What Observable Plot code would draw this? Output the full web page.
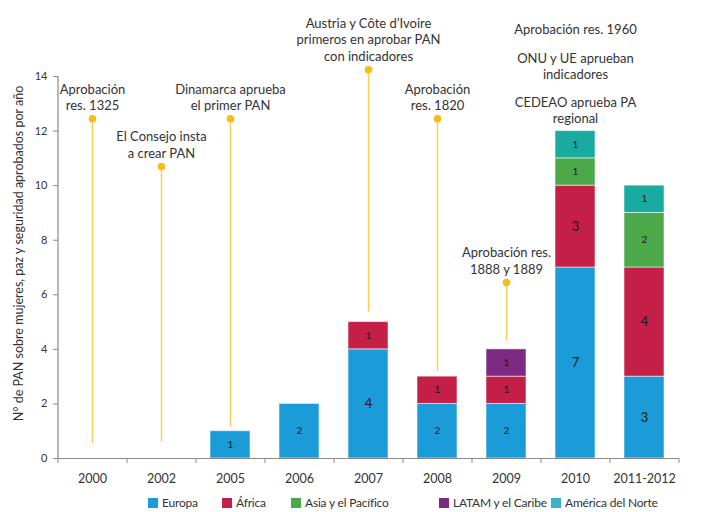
<!DOCTYPE html>
<html>
<head>
<meta charset="utf-8">
<script src="https://cdn.jsdelivr.net/npm/d3@7"></script>
<script src="https://cdn.jsdelivr.net/npm/@observablehq/plot@0.6"></script>
<style>
  html, body { margin: 0; padding: 0; background: #fff; }
  body { width: 706px; height: 512px; position: relative; font-family: Lato, "Open Sans", sans-serif; overflow: hidden; }
  #legend { position: absolute; top: 495px; left: 0; width: 706px; height: 17px; font-size: 12px; letter-spacing: -0.2px; color: #333; }
  #legend .item { position: absolute; top: 0; display: flex; align-items: center; white-space: nowrap; }
  #legend .sw { width: 10px; height: 10px; margin-right: 4px; display: inline-block; }
</style>
</head>
<body>
<div id="chart"></div>
<div id="legend"></div>
<script>
// ---- data ----
const years = ["2000", "2002", "2005", "2006", "2007", "2008", "2009", "2010", "2011-2012"];
const regions = ["Europa", "África", "Asia y el Pacífico", "LATAM y el Caribe", "América del Norte"];
const europa = [0, 0, 1, 2, 4, 2, 2, 7, 3];
const africa = [0, 0, 0, 0, 1, 1, 1, 3, 4];
const asia   = [0, 0, 0, 0, 0, 0, 0, 1, 2];
const latam  = [0, 0, 0, 0, 0, 0, 1, 0, 0];
const norte  = [0, 0, 0, 0, 0, 0, 0, 1, 1];
const yTicks = [0, 2, 4, 6, 8, 10, 12, 14];

// milestone annotations (lollipops)
const annYears = ["2000", "2002", "2005", "2007", "2008", "2009"];
const annTop   = [12.45, 10.7, 12.45, 14.25, 12.45, 6.45];
const annBase  = [0.55, 0.6, 1.15, 5.35, 3.2, 4.3];
const annText  = [
  "Aprobación\nres. 1325",
  "El Consejo insta\na crear PAN",
  "Dinamarca aprueba\nel primer PAN",
  "Austria y Côte d’Ivoire\nprimeros en aprobar PAN\ncon indicadores",
  "Aprobación\nres. 1820",
  "Aprobación res.\n1888 y 1889"
];
// 2010 text-only annotations
const noteYears = ["2010", "2010", "2010"];
const noteY     = [15.57, 13.9, 12.3];
const noteText  = ["Aprobación res. 1960", "ONU y UE aprueban\nindicadores", "CEDEAO aprueba PA\nregional"];

const yLabel = "N° de PAN sobre mujeres, paz y seguridad aprobados por año";

// ---- styles ----
const barColors = ["#1b9bd7", "#c41f46", "#4ca94a", "#7b2b82", "#1aaba0"];
const legendColors = ["#1b9bd7", "#c41f46", "#4ca94a", "#7b2b82", "#41b0c6"];
const legendLeft = [148, 222, 291, 439, 551];
const gold = "#f6bd16", goldLine = "#f9cf55";

const W = 706, H = 490, mL = 58, mR = 27, mT = 76, mB = 32;
const step = (W - mL - mR) / years.length;

const series = [europa, africa, asia, latam, norte];
const rows = [];
years.forEach((yr, i) => regions.forEach((r, k) => {
  if (series[k][i] > 0) rows.push({year: yr, region: r, value: series[k][i]});
}));
const ann = annYears.map((yr, i) => ({year: yr, top: annTop[i], base: annBase[i], text: annText[i]}));
const notes = noteYears.map((yr, i) => ({year: yr, y: noteY[i], text: noteText[i]}));

const txt = "#333";
const chart = Plot.plot({
  width: W, height: H,
  marginLeft: mL, marginRight: mR, marginTop: mT, marginBottom: mB,
  style: {fontFamily: "Lato, 'Open Sans', sans-serif", color: txt, background: "white", overflow: "visible"},
  x: {domain: years, paddingInner: 0.42, paddingOuter: 0.21, label: null},
  y: {domain: [0, 14], label: null},
  color: {domain: regions, range: barColors},
  marks: [
    // annotation stems and dots
    Plot.ruleX(ann, {x: "year", y1: "base", y2: "top", stroke: goldLine, strokeWidth: 1.5}),
    Plot.dot(ann, {x: "year", y: "top", r: 3.8, fill: gold}),
    Plot.text(ann, {x: "year", y: "top", text: "text", lineAnchor: "bottom", dy: -9, fontSize: 13, lineHeight: 1.25, fill: txt}),
    Plot.text(notes, {x: "year", y: "y", text: "text", lineAnchor: "bottom", fontSize: 13, lineHeight: 1.25, fill: txt}),
    // stacked bars
    Plot.barY(rows, {x: "year", y: "value", fill: "region", order: regions, stroke: "white", strokeOpacity: 0.55, strokeWidth: 1}),
    Plot.text(rows, Plot.stackY({x: "year", y: "value", z: "region", order: regions, text: d => String(d.value), fontSize: d => d.value >= 3 ? 13 : 10, fill: "#1a1a1a"})),
    // axes
    Plot.ruleY([0], {stroke: "#8a8a8a", strokeWidth: 1.2}),
    Plot.ruleX([0], {x: () => years[0], y1: 0, y2: 14, dx: -step / 2, stroke: "#8a8a8a", strokeWidth: 1.2}),
    Plot.axisY({ticks: yTicks, tickSize: 5, tickPadding: 6, stroke: "#8a8a8a", fontSize: 11, label: null, tickFormat: d => String(d)}),
    Plot.axisX({tickSize: 0, tickPadding: 16, fontSize: 12.5, label: null}),
    Plot.ruleX(years, {x: d => d, y1: 0, y2: 0, insetBottom: -5, dx: -step / 2, stroke: "#8a8a8a"}),
    Plot.ruleX([years[years.length - 1]], {x: d => d, y1: 0, y2: 0, insetBottom: -5, dx: step / 2, stroke: "#8a8a8a"}),
    Plot.text([yLabel], {frameAnchor: "left", textAnchor: "middle", rotate: -90, dx: -40, dy: -14, fontSize: 12.5, fill: txt})
  ]
});
document.getElementById("chart").appendChild(chart);

const lg = document.getElementById("legend");
regions.forEach((r, k) => {
  const it = document.createElement("div");
  it.className = "item";
  it.style.left = legendLeft[k] + "px";
  const sw = document.createElement("span");
  sw.className = "sw";
  sw.style.background = legendColors[k];
  it.appendChild(sw);
  it.appendChild(document.createTextNode(r));
  lg.appendChild(it);
});
</script>
</body>
</html>
